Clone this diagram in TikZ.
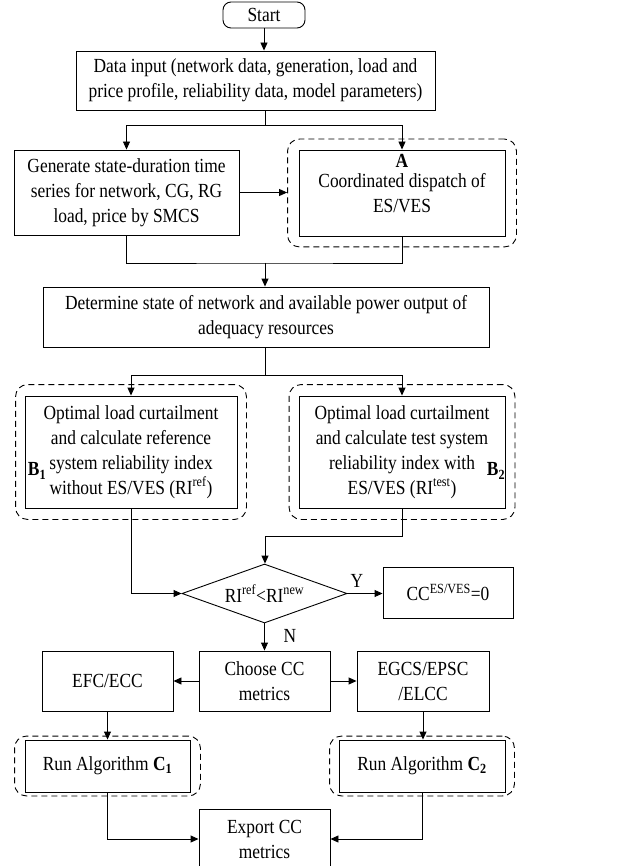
\documentclass[tikz,border=0pt]{standalone}
\usepackage{fontspec}
\setmainfont{Liberation Serif}[FakeStretch=0.87]
\usetikzlibrary{arrows.meta,shapes.geometric,fit}
\tikzset{%
  tipA/.tip={Triangle[length=8pt,width=7pt]},
}

\begin{document}
\begin{tikzpicture}[x=1pt,y=-1pt,
  every node/.style={font=\fontsize{20pt}{25pt}\selectfont},
  blk/.style={draw, line width=0.9pt, align=center, inner sep=0pt},
  grp/.style={draw, dash pattern=on 6pt off 4pt, rounded corners=12pt, line width=0.9pt},
  lnk/.style={line width=0.9pt},
  arr/.style={line width=0.9pt, -tipA}]
\useasboundingbox (0,0) rectangle (623,866);
\node[blk, rounded corners=8pt, minimum width=82pt, minimum height=26pt] (start) at (264,15) {Start};
\node[blk, minimum width=359pt, minimum height=59pt] (data) at (255.5,80.5)
  {Data input (network data, generation, load and\\price profile, reliability data, model parameters)};
\node[blk, minimum width=225pt, minimum height=85pt] (gen) at (126.5,192.5)
  {Generate state-duration time\\series for network, CG, RG\\load, price by SMCS};
\node[blk, minimum width=206pt, minimum height=86pt] (dispA) at (402,193)
  {Coordinated dispatch of\\ES/VES};
\node[inner sep=0pt, text depth=0pt] (labA) at (402,161) {\textbf{A}};
\node[grp, fit=(dispA), inner xsep=11pt, inner ysep=10.5pt] (grpA) {};
\node[blk, minimum width=446pt, minimum height=60pt] (state) at (266,317)
  {Determine state of network and available power output of\\adequacy resources};
\node[blk, minimum width=212pt, minimum height=112pt] (optB1) at (131,452)
  {Optimal load curtailment\\and calculate reference\\system reliability index\\without ES/VES (RI\textsuperscript{ref})};
\node (labB1) at (37,471) {\textbf{B\textsubscript{1}}};
\node[grp, fit=(optB1), inner xsep=9pt, inner ysep=11pt] (grpB1) {};
\node[blk, minimum width=206pt, minimum height=112pt] (optB2) at (402,452)
  {Optimal load curtailment\\and calculate test system\\reliability index with\\ES/VES (RI\textsuperscript{test})};
\node (labB2) at (496,471) {\textbf{B\textsubscript{2}}};
\node[grp, fit=(optB2), inner xsep=9.5pt, inner ysep=11pt] (grpB2) {};
\node[blk, shape=diamond, aspect=2.8, minimum width=165pt, minimum height=59pt] (dec) at (264.5,593.5)
  {RI\textsuperscript{ref}<RI\textsuperscript{new}};
\node[blk, minimum width=130pt, minimum height=51pt] (ccz) at (448,592.5) {CC\textsuperscript{ES/VES}=0};
\node (labY) at (357,581) {Y};
\node[blk, minimum width=131pt, minimum height=60pt] (choose) at (264.5,681) {Choose CC\\metrics};
\node (labN) at (290,636) {N};
\node[blk, minimum width=131pt, minimum height=60pt] (efc) at (107.5,681) {EFC/ECC};
\node[blk, minimum width=132pt, minimum height=60pt] (egcs) at (423,681) {EGCS/EPSC\\/ELCC};
\node[blk, minimum width=165pt, minimum height=52pt] (runC1) at (107.5,766) {Run Algorithm \textbf{C\textsubscript{1}}};
\node[grp, fit=(runC1), inner xsep=10pt, inner ysep=3.5pt] (grpC1) {};
\node[blk, minimum width=166pt, minimum height=52pt] (runC2) at (422,766) {Run Algorithm \textbf{C\textsubscript{2}}};
\node[grp, fit=(runC2), inner xsep=9pt, inner ysep=3.5pt] (grpC2) {};
\node[blk, minimum width=131pt, minimum height=60pt] (export) at (264.5,839) {Export CC\\metrics};
% connectors
\coordinate (s1) at (265,125);
\coordinate (s2) at (265,263);
\coordinate (s3) at (265,375);
\coordinate (s4) at (265,536);
\draw[arr] (start.south) -- (start.south |- data.north);
\draw[lnk] (data.south -| s1) -- (s1);
\draw[arr] (s1) -| (gen.north);
\draw[arr] (s1) -| (dispA.north);
\draw[arr] (gen.east) -- (gen.east -| grpA.west);
\draw[lnk] (gen.south) |- (s2) -| (dispA.south);
\draw[arr] (s2) -- (s2 |- state.north);
\draw[lnk] (state.south -| s3) -- (s3);
\draw[arr] (s3) -| (optB1.north);
\draw[arr] (s3) -| (optB2.north);
\draw[arr] (optB1.south) |- (dec.west);
\draw[lnk] (optB2.south) |- (s4);
\draw[arr] (s4) -- (s4 |- dec.north);
\draw[arr] (dec.east) -- (dec.east -| ccz.west);
\draw[arr] (dec.south) -- (choose.north);
\draw[arr] (choose.west) -- (efc.east);
\draw[arr] (choose.east) -- (egcs.west);
\draw[arr] (efc.south) -- (runC1.north);
\draw[arr] (egcs.south) -- (egcs.south |- runC2.north);
\draw[arr] (runC1.south) |- (export.west);
\draw[arr] (runC2.south) |- (export.east);
\end{tikzpicture}
\end{document}
